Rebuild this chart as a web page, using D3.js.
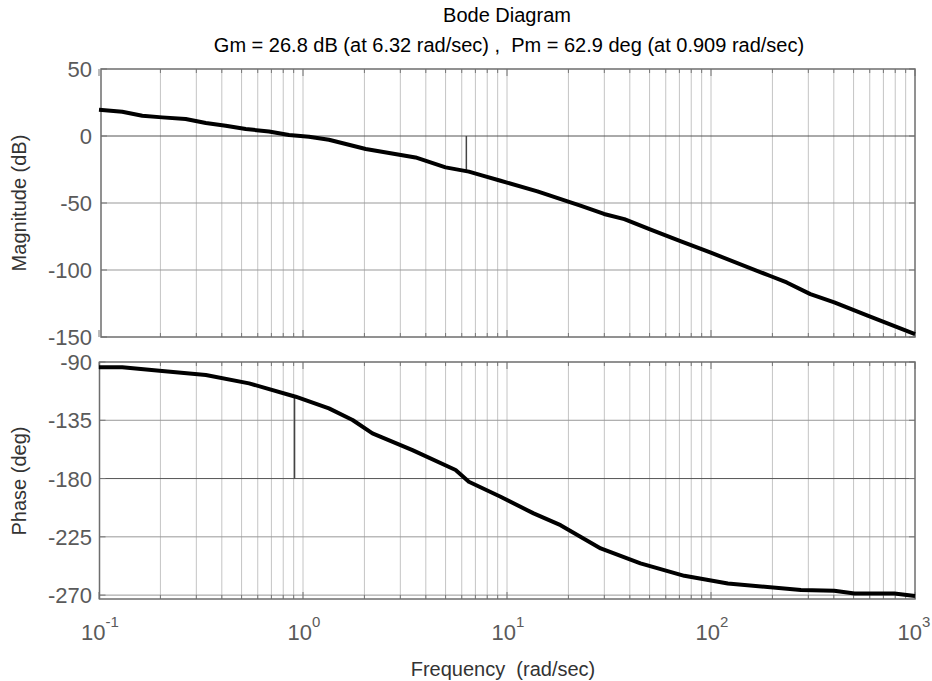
<!DOCTYPE html>
<html>
<head>
<meta charset="utf-8">
<script src="https://cdn.jsdelivr.net/npm/d3@7"></script>
<style>
  body { margin: 0; background: #fff; }
  svg text { font-family: "Liberation Sans", Arial, sans-serif; }
</style>
</head>
<body>
<div id="graphe"></div>
<script>
// valeurs
var freqGain = [0.1, 0.13, 0.163, 0.204, 0.266, 0.334, 0.418, 0.524, 0.681, 0.854, 1.07, 1.34, 2.03, 3.56, 5.0, 6.5, 7.6, 9.3, 14.1, 19.8, 22.9, 29.9, 37.6, 51, 71.3, 99.1, 194, 235, 307, 402, 586, 1000];
var gainDb = [19.6, 18.1, 15.1, 13.9, 12.7, 9.7, 7.7, 5.2, 3.4, 0.7, -0.5, -2.8, -9.7, -16, -23.4, -26.6, -29.6, -33.4, -41.3, -48.8, -52, -58.2, -62, -70.1, -78.7, -86.9, -104.3, -109.3, -118, -124.2, -134.1, -147.8];
var freqPhase = [0.1, 0.13, 0.204, 0.334, 0.544, 0.92, 1.34, 1.75, 2.19, 3.44, 5.6, 6.5, 9.3, 13.5, 18.3, 28.8, 45.1, 74, 121, 276, 402, 505, 793, 1000];
var phaseDeg = [-94.1, -94.1, -97, -100, -106.5, -116.8, -125.8, -134.8, -145.1, -158, -173.4, -182.5, -194, -206.9, -216, -234, -245.5, -255.1, -261, -266.1, -266.7, -268.8, -268.8, -270.6];
var ticksGain = [50, 0, -50, -100, -150];
var ticksPhase = [-90, -135, -180, -225, -270];
var decades = [-1, 0, 1, 2, 3];
var titre = "Bode Diagram";
var sousTitre = "Gm = 26.8 dB (at 6.32 rad/sec) ,  Pm = 62.9 deg (at 0.909 rad/sec)";
var gm = { freq: 6.32, db: -26.8 };
var pm = { freq: 0.909, deg: -117.1 };

var largeur = 932, hauteur = 681;
var svg = d3.select("#graphe").append("svg")
    .attr("width", largeur)
    .attr("height", hauteur);

var x = d3.scaleLog().domain([0.1, 1000]).range([99, 915]);
var yGain = d3.scaleLinear().domain([-150, 50]).range([337, 69]);
var yPhase = d3.scaleLinear().domain([-273, -90]).range([599, 362]);

// graduations mineures (2..9 par decade)
var mineures = [];
for (var d = -1; d < 3; d++) {
    for (var m = 1; m < 10; m++) {
        mineures.push(m * Math.pow(10, d));
    }
}
mineures.push(1000);

function panneau(y, ticks, gauche, lignesFortes) {
    var g = svg.append("g");
    var haut = y.range()[1], bas = y.range()[0];
    // grille verticale
    mineures.forEach(function (f) {
        if (f <= 0.1 || f >= 1000) return;
        g.append("line")
            .attr("x1", x(f)).attr("x2", x(f))
            .attr("y1", haut).attr("y2", bas)
            .attr("stroke", "#c4c4c4")
            .attr("stroke-width", 1);
    });
    // grille horizontale
    ticks.forEach(function (t) {
        if (t === y.domain()[1] || t === y.domain()[0]) return;
        var fort = lignesFortes.indexOf(t) >= 0;
        g.append("line")
            .attr("x1", gauche).attr("x2", 915)
            .attr("y1", y(t)).attr("y2", y(t))
            .attr("stroke", fort ? "#555" : "#999")
            .attr("stroke-width", 1);
    });
    // petites graduations haut et bas
    mineures.forEach(function (f) {
        var maj = Math.abs(Math.log10(f) - Math.round(Math.log10(f))) < 1e-9;
        var l = maj ? 7 : 4;
        g.append("line")
            .attr("x1", x(f)).attr("x2", x(f))
            .attr("y1", haut).attr("y2", haut + l)
            .attr("stroke", "#777");
        g.append("line")
            .attr("x1", x(f)).attr("x2", x(f))
            .attr("y1", bas).attr("y2", bas - l)
            .attr("stroke", "#777");
    });
    ticks.forEach(function (t) {
        g.append("line")
            .attr("x1", gauche).attr("x2", gauche + 6)
            .attr("y1", y(t)).attr("y2", y(t))
            .attr("stroke", "#777");
        g.append("line")
            .attr("x1", 915).attr("x2", 909)
            .attr("y1", y(t)).attr("y2", y(t))
            .attr("stroke", "#777");
        g.append("text")
            .attr("x", 92)
            .attr("y", y(t) + 8)
            .attr("text-anchor", "end")
            .attr("font-size", 22)
            .attr("fill", "#5a5a5a")
            .text(t);
    });
    // cadre
    g.append("rect")
        .attr("x", gauche).attr("y", haut)
        .attr("width", 915 - gauche).attr("height", bas - haut)
        .attr("fill", "none")
        .attr("stroke", "#6e6e6e")
        .attr("stroke-width", 1.5);
    return g;
}

panneau(yGain, ticksGain, 101, [0]);
panneau(yPhase, ticksPhase, 99.5, [-180]);

// marges de gain et de phase
svg.append("line")
    .attr("x1", x(gm.freq)).attr("x2", x(gm.freq))
    .attr("y1", yGain(0)).attr("y2", yGain(gm.db))
    .attr("stroke", "#444").attr("stroke-width", 1.5);
svg.append("line")
    .attr("x1", x(pm.freq)).attr("x2", x(pm.freq))
    .attr("y1", yPhase(-180)).attr("y2", yPhase(pm.deg))
    .attr("stroke", "#444").attr("stroke-width", 1.5);

// courbes
var ligneGain = d3.line()
    .x(function (d) { return x(d[0]); })
    .y(function (d) { return yGain(d[1]); });
var lignePhase = d3.line()
    .x(function (d) { return x(d[0]); })
    .y(function (d) { return yPhase(d[1]); });

svg.append("path")
    .attr("d", ligneGain(d3.zip(freqGain, gainDb)))
    .attr("fill", "none").attr("stroke", "#000").attr("stroke-width", 4)
    .attr("stroke-linejoin", "round");
svg.append("path")
    .attr("d", lignePhase(d3.zip(freqPhase, phaseDeg)))
    .attr("fill", "none").attr("stroke", "#000").attr("stroke-width", 4)
    .attr("stroke-linejoin", "round");

// etiquettes de l'axe des frequences
decades.forEach(function (p) {
    var t = svg.append("text")
        .attr("x", x(Math.pow(10, p)) + (p === 3 ? -1 : 1))
        .attr("y", 640)
        .attr("text-anchor", "middle")
        .attr("font-size", 22)
        .attr("fill", "#5a5a5a");
    t.append("tspan").text("10");
    t.append("tspan")
        .attr("dy", -13)
        .attr("font-size", 15)
        .text(p);
});

// titres
svg.append("text")
    .attr("x", 507).attr("y", 22)
    .attr("text-anchor", "middle")
    .attr("font-size", 20)
    .text(titre);
svg.append("text")
    .attr("x", 509).attr("y", 52)
    .attr("text-anchor", "middle")
    .attr("font-size", 20)
    .attr("xml:space", "preserve")
    .text(sousTitre);
svg.append("text")
    .attr("x", 503).attr("y", 676)
    .attr("text-anchor", "middle")
    .attr("font-size", 20)
    .attr("fill", "#333")
    .attr("xml:space", "preserve")
    .text("Frequency  (rad/sec)");
svg.append("text")
    .attr("transform", "translate(26,203) rotate(-90)")
    .attr("text-anchor", "middle")
    .attr("font-size", 20)
    .attr("fill", "#333")
    .text("Magnitude (dB)");
svg.append("text")
    .attr("transform", "translate(26,481) rotate(-90)")
    .attr("text-anchor", "middle")
    .attr("font-size", 20)
    .attr("fill", "#333")
    .text("Phase (deg)");
</script>
</body>
</html>
